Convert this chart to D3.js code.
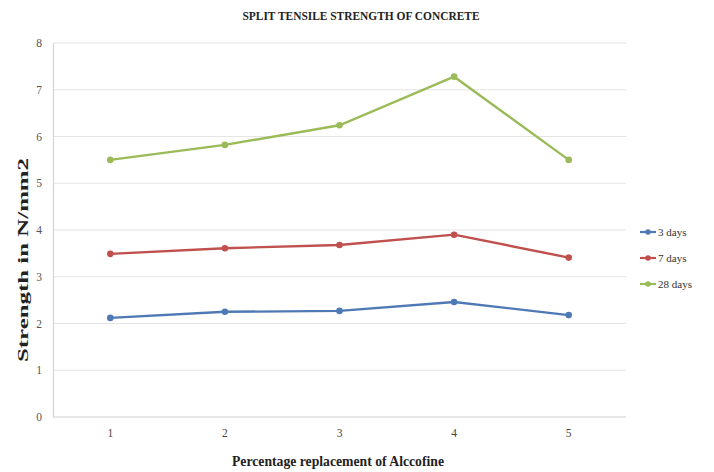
<!DOCTYPE html>
<html>
<head>
<meta charset="utf-8">
<script src="https://cdn.jsdelivr.net/npm/d3@7"></script>
<style>
  html, body { margin: 0; padding: 0; background: #fff; }
  svg { display: block; font-family: "Liberation Serif", "Times New Roman", serif; }
</style>
</head>
<body>
<svg id="chart" width="714" height="472"></svg>
<script>
// Percentage replacement of Alccofine (x categories)
const categories = ["1", "2", "3", "4", "5"];
// Split tensile strength in N/mm2 for each curing age
const days3  = [2.12, 2.25, 2.27, 2.46, 2.18];
const days7  = [3.49, 3.61, 3.68, 3.90, 3.41];
const days28 = [5.50, 5.82, 6.24, 7.28, 5.50];
const seriesNames = ["3 days", "7 days", "28 days"];
const yTicks = [0, 1, 2, 3, 4, 5, 6, 7, 8];

const series = [
  { name: seriesNames[0], values: days3,  color: "#4F79B5" },
  { name: seriesNames[1], values: days7,  color: "#C0504D" },
  { name: seriesNames[2], values: days28, color: "#9BBB59" }
];

const svg = d3.select("#chart");
const plot = { left: 53, right: 626, top: 43, bottom: 417 };

const x = d3.scaleBand().domain(categories).range([plot.left, plot.right]);
const y = d3.scaleLinear().domain([0, 8]).range([plot.bottom, plot.top]);

// horizontal gridlines
svg.append("g")
  .selectAll("line")
  .data(yTicks)
  .join("line")
  .attr("x1", plot.left).attr("x2", plot.right)
  .attr("y1", d => y(d)).attr("y2", d => y(d))
  .attr("stroke", d => d === 0 ? "#cfcfcf" : "#e4e4e4")
  .attr("stroke-width", 1.2);

// y axis
const yAxis = svg.append("g")
  .attr("transform", `translate(${plot.left},0)`)
  .call(d3.axisLeft(y).tickValues(yTicks).tickSize(0).tickPadding(11).tickFormat(d3.format("d")));
yAxis.select(".domain").attr("stroke", "#d4d4d4").attr("stroke-width", 1.2);
yAxis.selectAll("text")
  .attr("font-family", "Liberation Serif, serif")
  .attr("font-size", 11.5)
  .attr("fill", "#555");

// x axis
const xAxis = svg.append("g")
  .attr("transform", `translate(0,${plot.bottom})`)
  .call(d3.axisBottom(x).tickSize(0).tickPadding(12));
xAxis.select(".domain").remove();
xAxis.selectAll("text")
  .attr("font-family", "Liberation Serif, serif")
  .attr("font-size", 11.5)
  .attr("fill", "#444");

// lines and markers
const line = d3.line()
  .x((d, i) => x(categories[i]) + x.bandwidth() / 2)
  .y(d => y(d));

series.forEach(s => {
  svg.append("path")
    .datum(s.values)
    .attr("fill", "none")
    .attr("stroke", s.color)
    .attr("stroke-width", 2.4)
    .attr("d", line);
  svg.append("g")
    .selectAll("circle")
    .data(s.values)
    .join("circle")
    .attr("cx", (d, i) => x(categories[i]) + x.bandwidth() / 2)
    .attr("cy", d => y(d))
    .attr("r", 3.3)
    .attr("fill", s.color);
});

// title
svg.append("text")
  .attr("x", 361).attr("y", 20)
  .attr("text-anchor", "middle")
  .attr("font-size", 13)
  .attr("font-weight", "bold")
  .attr("fill", "#222")
  .attr("textLength", 237)
  .attr("lengthAdjust", "spacingAndGlyphs")
  .text("SPLIT TENSILE STRENGTH OF CONCRETE");

// y axis title
svg.append("text")
  .attr("transform", "translate(28,260) rotate(-90)")
  .attr("text-anchor", "middle")
  .attr("font-size", 14)
  .attr("font-weight", "bold")
  .attr("fill", "#222")
  .attr("textLength", 204)
  .attr("lengthAdjust", "spacingAndGlyphs")
  .text("Strength in N/mm2");

// x axis title
svg.append("text")
  .attr("x", 338).attr("y", 466)
  .attr("text-anchor", "middle")
  .attr("font-size", 15)
  .attr("font-weight", "bold")
  .attr("fill", "#222")
  .attr("textLength", 212)
  .attr("lengthAdjust", "spacingAndGlyphs")
  .text("Percentage replacement of Alccofine");

// legend
const legend = svg.append("g").attr("transform", "translate(640,232)");
series.forEach((s, i) => {
  const g = legend.append("g").attr("transform", `translate(0,${i * 26})`);
  g.append("line").attr("x1", 0).attr("x2", 16).attr("y1", 0).attr("y2", 0)
    .attr("stroke", s.color).attr("stroke-width", 2.2);
  g.append("circle").attr("cx", 8).attr("cy", 0).attr("r", 2.8).attr("fill", s.color);
  g.append("text").attr("x", 18).attr("y", 3.8)
    .attr("font-size", 11)
    .attr("fill", "#333")
    .text(s.name);
});
</script>
</body>
</html>
